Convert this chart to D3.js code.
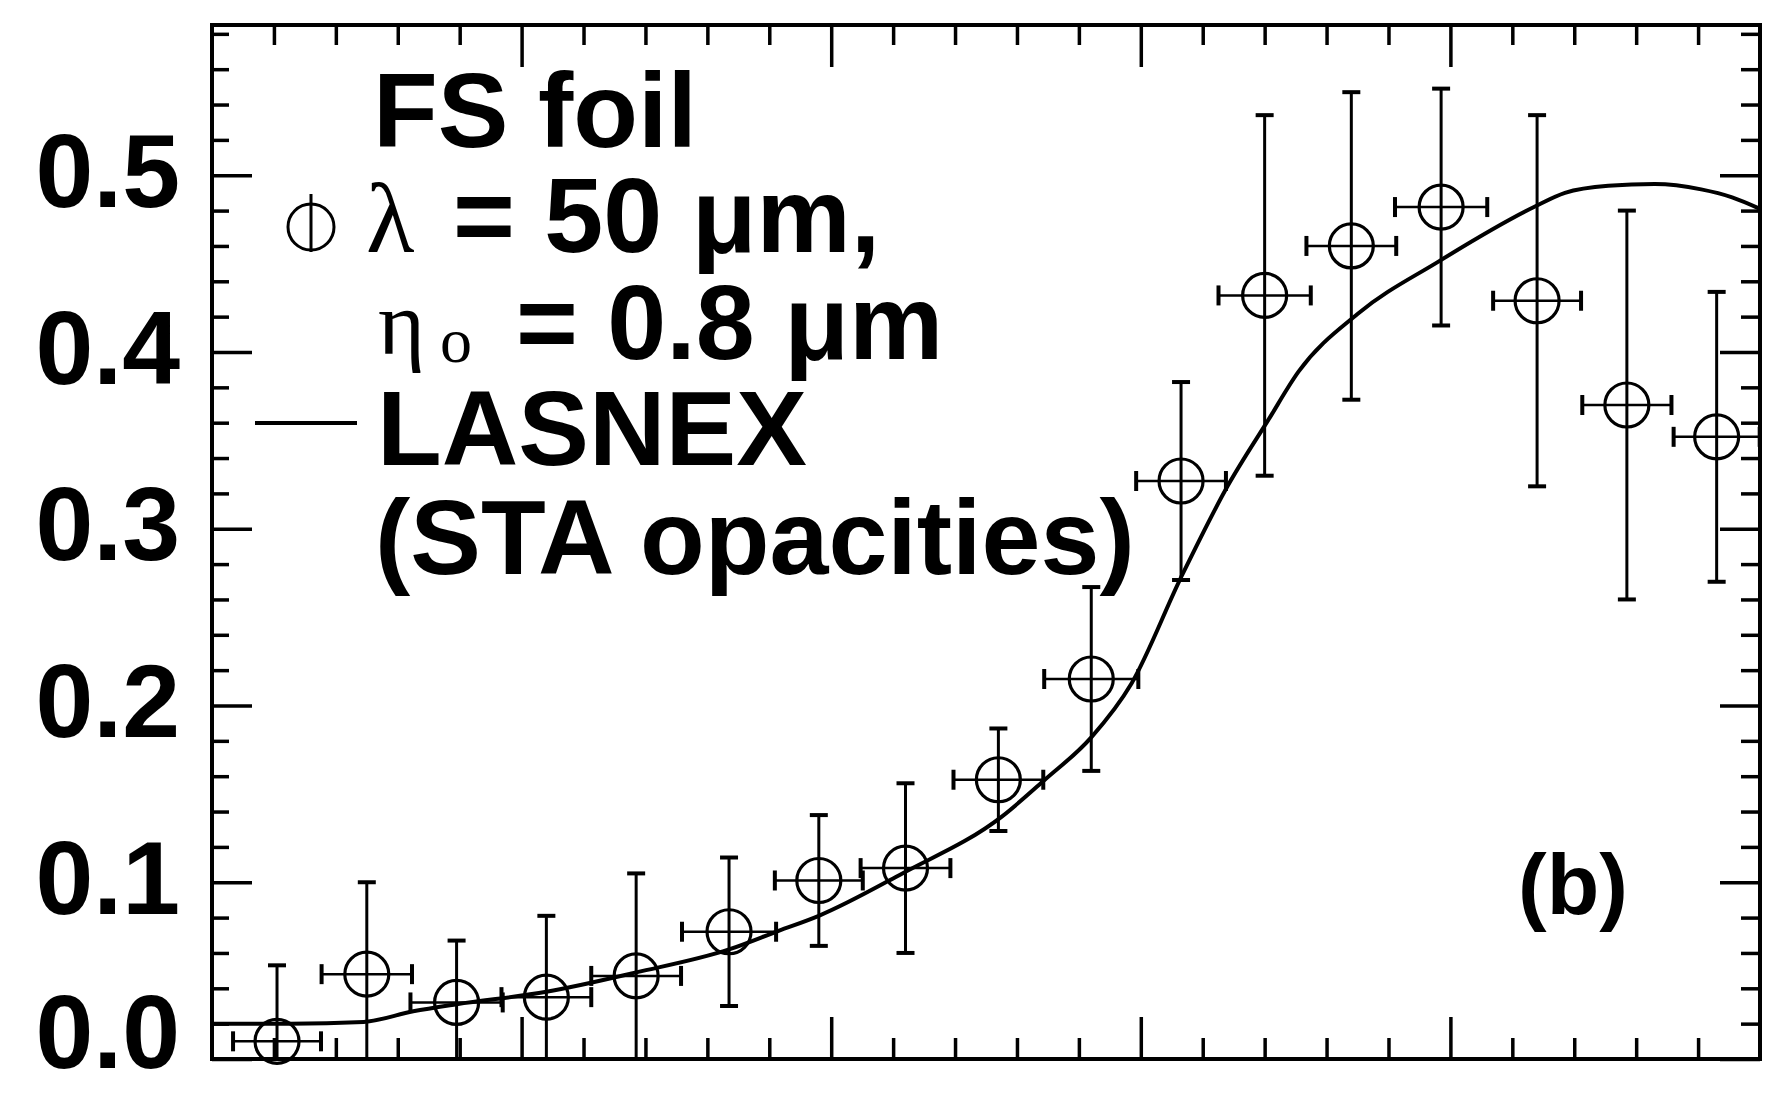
<!DOCTYPE html>
<html>
<head>
<meta charset="utf-8">
<script src="https://cdn.jsdelivr.net/npm/d3@7"></script>
<style>
	body { margin: 0; background: #fff; }
	svg { display: block; }
	.tick text { font-family: "Liberation Sans", Arial, sans-serif; font-weight: bold; font-size: 104px; fill: #000; }
	.label { font-family: "Liberation Sans", Arial, sans-serif; font-weight: bold; fill: #000; }
	.greek { font-family: "Liberation Serif", "Times New Roman", serif; font-weight: normal; }
</style>
</head>
<body>
<script>

// measured points (x in arbitrary units, y value, errors)
const xVals = [0.21, 0.50, 0.79, 1.08, 1.37, 1.67, 1.96, 2.24, 2.54, 2.84, 3.13, 3.40, 3.68, 3.97, 4.28, 4.57, 4.86];
const yVals = [0.010, 0.048, 0.032, 0.035, 0.047, 0.072, 0.101, 0.108, 0.158, 0.215, 0.327, 0.432, 0.460, 0.482, 0.429, 0.370, 0.352];
const yErr = [0.043, 0.052, 0.035, 0.046, 0.058, 0.042, 0.037, 0.048, 0.029, 0.052, 0.056, 0.102, 0.087, 0.067, 0.105, 0.110, 0.082];
const xErr = [0.142, 0.146, 0.149, 0.145, 0.145, 0.152, 0.142, 0.145, 0.145, 0.152, 0.145, 0.149, 0.145, 0.149, 0.142, 0.144, 0.139];

// LASNEX curve
const curveX = [0.00, 0.25, 0.49, 0.65, 0.79, 1.08, 1.37, 1.67, 1.83, 1.96, 2.23, 2.55, 2.69, 2.84, 2.97, 3.13, 3.28, 3.41, 3.51, 3.70, 3.96, 4.27, 4.37, 4.51, 4.66, 4.81, 4.91, 5.00];
const curveY = [0.020, 0.020, 0.021, 0.027, 0.031, 0.038, 0.049, 0.062, 0.0725, 0.081, 0.105, 0.137, 0.158, 0.182, 0.2125, 0.2725, 0.324, 0.361, 0.389, 0.4215, 0.451, 0.482, 0.490, 0.494, 0.495, 0.492, 0.4875, 0.481];

const yTicks = [0.0, 0.1, 0.2, 0.3, 0.4, 0.5];
const yMinor = [0.02, 0.04, 0.06, 0.08, 0.12, 0.14, 0.16, 0.18, 0.22, 0.24, 0.26, 0.28, 0.32, 0.34, 0.36, 0.38, 0.42, 0.44, 0.46, 0.48, 0.52, 0.54, 0.56, 0.58];
const xTicks = [1, 2, 3, 4];
const xMinor = [0.2, 0.4, 0.6, 0.8, 1.2, 1.4, 1.6, 1.8, 2.2, 2.4, 2.6, 2.8, 3.2, 3.4, 3.6, 3.8, 4.2, 4.4, 4.6, 4.8];

const margin = {
	top: 25,
	bottom: 34,
	left: 212,
	right: 23
}

const width = 1783 - margin.left - margin.right;
const height = 1093 - margin.top - margin.bottom;

const data = xVals.map(function(d, i) {
	return { x: d, y: yVals[i], ey: yErr[i], ex: xErr[i] };
});
const curve = curveX.map(function(d, i) {
	return { x: d, y: curveY[i] };
});

const xScale = d3.scaleLinear().domain([0, 5]).range([0, width]);
const yScale = d3.scaleLinear().domain([0, 0.585]).range([height, 0]);

const svg = d3.select('body').append('svg')
	.attr('width', width + margin.left + margin.right)
	.attr('height', height + margin.top + margin.bottom)
.append('g')
	.attr('transform', 'translate(' + margin.left + ',' + margin.top + ')');

// inward ticks on all four sides
function tickAxis(axis, cls, tr) {
	const g = svg.append('g').attr('class', cls).attr('transform', tr || null).call(axis);
	g.select('.domain').remove();
	g.selectAll('.tick line').attr('stroke', '#000').attr('stroke-width', 3.5);
	return g;
}

tickAxis(d3.axisBottom(xScale).tickValues(xTicks).tickSize(-42).tickFormat(''), 'x axis', 'translate(0,' + height + ')');
tickAxis(d3.axisBottom(xScale).tickValues(xMinor).tickSize(-21).tickFormat(''), 'x minor', 'translate(0,' + height + ')');
tickAxis(d3.axisTop(xScale).tickValues(xTicks).tickSize(-42).tickFormat(''), 'x2 axis');
tickAxis(d3.axisTop(xScale).tickValues(xMinor).tickSize(-20).tickFormat(''), 'x2 minor');

tickAxis(d3.axisLeft(yScale).tickValues(yTicks).tickSize(-40).tickPadding(32).tickFormat(d3.format('.1f')), 'y axis');
tickAxis(d3.axisLeft(yScale).tickValues(yMinor).tickSize(-17).tickFormat(''), 'y minor');
tickAxis(d3.axisRight(yScale).tickValues(yTicks).tickSize(-40).tickFormat(''), 'y2 axis', 'translate(' + width + ',0)');
tickAxis(d3.axisRight(yScale).tickValues(yMinor).tickSize(-19).tickFormat(''), 'y2 minor', 'translate(' + width + ',0)');

svg.selectAll('.y.axis .tick text').attr('dy', function(d) { return d === 0 ? '0.08em' : '0.3em'; });

svg.append('rect')
	.attr('width', width)
	.attr('height', height)
	.attr('fill', 'none')
	.attr('stroke', '#000')
	.attr('stroke-width', 4);

// LASNEX line
const line = d3.line()
	.x(function(d) { return xScale(d.x); })
	.y(function(d) { return yScale(d.y); })
	.curve(d3.curveMonotoneX);

svg.append('path')
	.datum(curve)
	.attr('d', line)
	.attr('fill', 'none')
	.attr('stroke', '#000')
	.attr('stroke-width', 4);

// error bars + circles
const pts = svg.append('g').attr('class', 'points')
	.selectAll('g').data(data).enter().append('g');

pts.append('line')
	.attr('x1', function(d) { return xScale(d.x); })
	.attr('x2', function(d) { return xScale(d.x); })
	.attr('y1', function(d) { return yScale(d.y + d.ey); })
	.attr('y2', function(d) { return yScale(Math.max(0, d.y - d.ey)); })
	.attr('stroke', '#000').attr('stroke-width', 3);

pts.append('line')
	.attr('x1', function(d) { return xScale(d.x) - 9; })
	.attr('x2', function(d) { return xScale(d.x) + 9; })
	.attr('y1', function(d) { return yScale(d.y + d.ey); })
	.attr('y2', function(d) { return yScale(d.y + d.ey); })
	.attr('stroke', '#000').attr('stroke-width', 4);

pts.filter(function(d) { return d.y - d.ey > 0; }).append('line')
	.attr('x1', function(d) { return xScale(d.x) - 9; })
	.attr('x2', function(d) { return xScale(d.x) + 9; })
	.attr('y1', function(d) { return yScale(d.y - d.ey); })
	.attr('y2', function(d) { return yScale(d.y - d.ey); })
	.attr('stroke', '#000').attr('stroke-width', 4);

pts.append('line')
	.attr('x1', function(d) { return xScale(Math.max(0, d.x - d.ex)); })
	.attr('x2', function(d) { return xScale(d.x + d.ex); })
	.attr('y1', function(d) { return yScale(d.y); })
	.attr('y2', function(d) { return yScale(d.y); })
	.attr('stroke', '#000').attr('stroke-width', 2.5);

pts.append('line')
	.attr('x1', function(d) { return xScale(d.x - d.ex); })
	.attr('x2', function(d) { return xScale(d.x - d.ex); })
	.attr('y1', function(d) { return yScale(d.y) - 10; })
	.attr('y2', function(d) { return yScale(d.y) + 10; })
	.attr('stroke', '#000').attr('stroke-width', 4);

pts.append('line')
	.attr('x1', function(d) { return xScale(d.x + d.ex); })
	.attr('x2', function(d) { return xScale(d.x + d.ex); })
	.attr('y1', function(d) { return yScale(d.y) - 10; })
	.attr('y2', function(d) { return yScale(d.y) + 10; })
	.attr('stroke', '#000').attr('stroke-width', 4);

pts.append('circle')
	.attr('cx', function(d) { return xScale(d.x); })
	.attr('cy', function(d) { return yScale(d.y); })
	.attr('r', 22)
	.attr('fill', 'none')
	.attr('stroke', '#000')
	.attr('stroke-width', 3.2);

// legend (positions relative to plot origin)
const leg = svg.append('g').attr('transform', 'translate(' + (-margin.left) + ',' + (-margin.top) + ')');

leg.append('text').attr('class', 'label').attr('x', 373).attr('y', 147).style('font-size', '106px').text('FS foil');

leg.append('circle').attr('cx', 311).attr('cy', 227).attr('r', 23)
	.attr('fill', 'none').attr('stroke', '#000').attr('stroke-width', 3);
leg.append('line').attr('x1', 311).attr('x2', 311).attr('y1', 194).attr('y2', 252)
	.attr('stroke', '#000').attr('stroke-width', 3);

const l2 = leg.append('text').attr('class', 'label').attr('x', 366).attr('y', 252).style('font-size', '106px');
l2.append('tspan').attr('class', 'greek').style('font-size', '100px').text('λ');
l2.append('tspan').attr('x', 453).text('= 50 μm,');

const l3 = leg.append('text').attr('class', 'label').attr('x', 378).attr('y', 354).style('font-size', '106px');
l3.append('tspan').attr('class', 'greek').style('font-size', '90px').text('η');
l3.append('tspan').attr('class', 'greek').attr('x', 440).attr('dy', 8).style('font-size', '64px').text('o');
l3.append('tspan').attr('x', 516).attr('dy', -3).text('= 0.8 μm');

leg.append('line').attr('x1', 255).attr('x2', 357).attr('y1', 423).attr('y2', 423)
	.attr('stroke', '#000').attr('stroke-width', 4);
leg.append('text').attr('class', 'label').attr('x', 377).attr('y', 465).style('font-size', '106px').text('LASNEX');
leg.append('text').attr('class', 'label').attr('x', 375).attr('y', 574).style('font-size', '106px').text('(STA opacities)');

leg.append('text').attr('class', 'label').attr('x', 1518).attr('y', 914).style('font-size', '86px').text('(b)');

</script>
</body>
</html>
